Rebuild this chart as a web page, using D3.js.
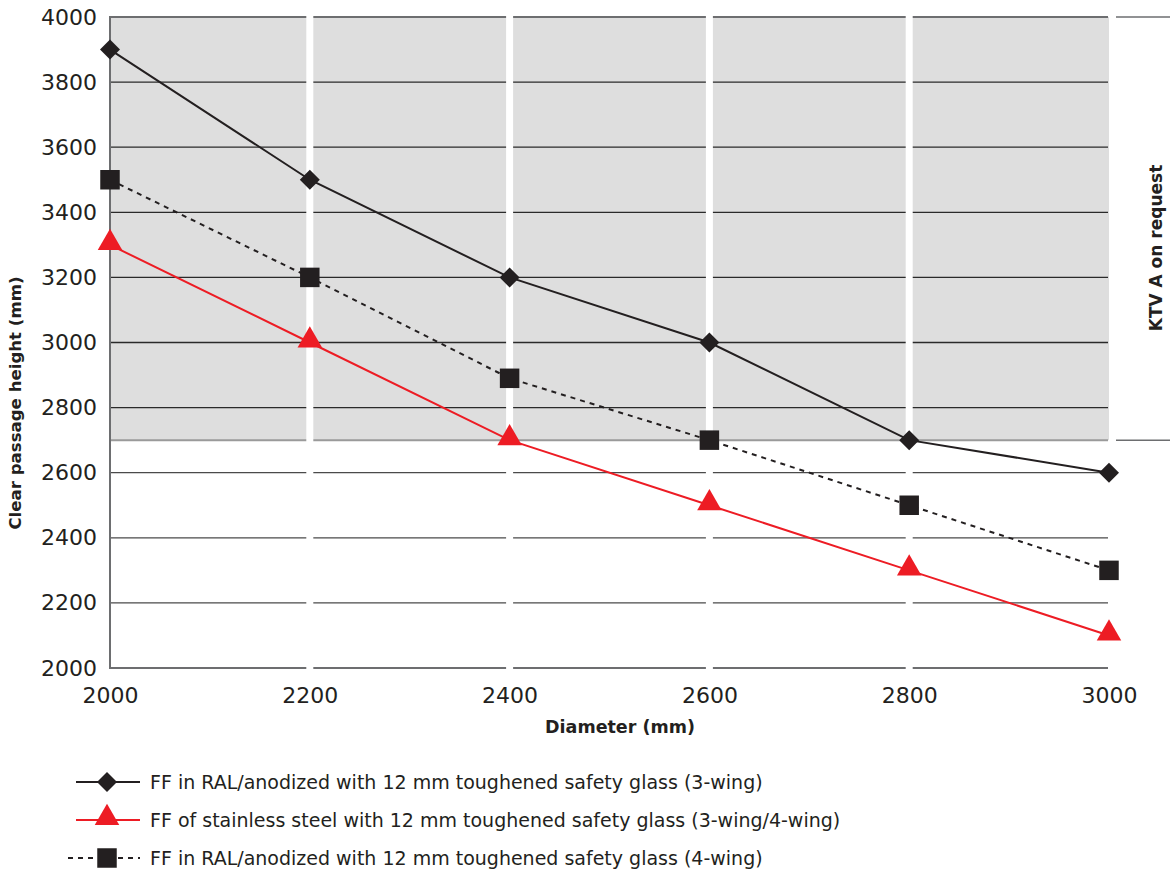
<!DOCTYPE html>
<html>
<head>
<meta charset="utf-8">
<script src="https://cdn.jsdelivr.net/npm/d3@7"></script>
<style>
  body { margin: 0; background: #fff; }
  text { font-family: "DejaVu Sans", "Noto Sans", sans-serif; fill: #231f20; }
</style>
</head>
<body>
<div id="chart"></div>
<script>
// data
const diameters = [2000, 2200, 2400, 2600, 2800, 3000];
const ralThreeWing = [3900, 3500, 3200, 3000, 2700, 2600];
const stainless = [3300, 3000, 2700, 2500, 2300, 2100];
const ralFourWing = [3500, 3200, 2890, 2700, 2500, 2300];
const yTicks = [2000, 2200, 2400, 2600, 2800, 3000, 3200, 3400, 3600, 3800, 4000];
const shadeFrom = 2700;
const legendLabels = [
  "FF in RAL/anodized with 12 mm toughened safety glass (3-wing)",
  "FF of stainless steel with 12 mm toughened safety glass (3-wing/4-wing)",
  "FF in RAL/anodized with 12 mm toughened safety glass (4-wing)"
];

const svgWidth = 1170, svgHeight = 873;
const svg = d3.select("#chart").append("svg")
  .attr("width", svgWidth).attr("height", svgHeight);

const x = d3.scaleLinear().domain([2000, 3000]).range([110, 1109]);
const y = d3.scaleLinear().domain([2000, 4000]).range([668, 17]);

// shaded "on request" area
svg.append("rect")
  .attr("x", x(2000)).attr("y", y(4000))
  .attr("width", x(3000) - x(2000)).attr("height", y(shadeFrom) - y(4000))
  .attr("fill", "#dedede");

// horizontal grid lines
svg.append("g").selectAll("line")
  .data(yTicks)
  .join("line")
  .attr("x1", x(2000)).attr("x2", x(3000) - 1)
  .attr("y1", d => y(d)).attr("y2", d => y(d))
  .attr("stroke", d => (d === 2000 || d === 4000) ? "#6d6e70" : (d > shadeFrom ? "#2a2a2a" : "#4a4a4a"))
  .attr("stroke-width", d => (d === 2000 || d === 4000) ? 2 : 1.3);

// boundary of shaded area
svg.append("line")
  .attr("x1", x(2000)).attr("x2", x(3000) - 1)
  .attr("y1", y(shadeFrom)).attr("y2", y(shadeFrom))
  .attr("stroke", "#9a9a9a").attr("stroke-width", 2);

// white vertical separators
svg.append("g").selectAll("line")
  .data(diameters.slice(1, -1))
  .join("line")
  .attr("x1", d => x(d)).attr("x2", d => x(d))
  .attr("y1", y(4000) - 2).attr("y2", y(2000) + 2)
  .attr("stroke", "#fff").attr("stroke-width", 7);

// left axis line
svg.append("line")
  .attr("x1", x(2000)).attr("x2", x(2000))
  .attr("y1", y(4000) - 1).attr("y2", y(2000) + 1)
  .attr("stroke", "#6d6e70").attr("stroke-width", 2);

// right side marks + label
[4000, shadeFrom].forEach(v => {
  svg.append("line")
    .attr("x1", 1116).attr("x2", 1170)
    .attr("y1", y(v)).attr("y2", y(v))
    .attr("stroke", "#6d6e70").attr("stroke-width", 1.5);
});
svg.append("text")
  .attr("transform", "translate(1162,248) rotate(-90)")
  .attr("text-anchor", "middle")
  .style("font-size", "17px").style("font-weight", "bold")
  .text("KTV A on request");

// axis tick labels
const yAxis = d3.axisLeft(y).tickValues(yTicks).tickSize(0).tickPadding(13).tickFormat(d3.format("d"));
svg.append("g").attr("transform", "translate(" + x(2000) + ",0)").call(yAxis)
  .call(g => g.select(".domain").remove())
  .selectAll("text").style("font-size", "22px").attr("fill", "#2b2b2b")
  .style("font-family", "'DejaVu Sans', sans-serif");

const xAxis = d3.axisBottom(x).tickValues(diameters).tickSize(0).tickPadding(19).tickFormat(d3.format("d"));
svg.append("g").attr("transform", "translate(0," + y(2000) + ")").call(xAxis)
  .call(g => g.select(".domain").remove())
  .selectAll("text").style("font-size", "22px").attr("fill", "#2b2b2b")
  .style("font-family", "'DejaVu Sans', sans-serif");

// axis titles
svg.append("text")
  .attr("x", 620).attr("y", 733)
  .attr("text-anchor", "middle")
  .style("font-size", "17.5px").style("font-weight", "bold")
  .text("Diameter (mm)");
svg.append("text")
  .attr("transform", "translate(21,403) rotate(-90)")
  .attr("text-anchor", "middle")
  .style("font-size", "16.6px").style("font-weight", "bold")
  .text("Clear passage height (mm)");

// series
const series = [
  { values: ralThreeWing, color: "#231f20", dash: null, symbol: d3.symbolSquare, rotate: 45, size: 200, label: legendLabels[0] },
  { values: stainless, color: "#ed1c24", dash: null, symbol: d3.symbolTriangle, rotate: 0, size: 260, label: legendLabels[1] },
  { values: ralFourWing, color: "#231f20", dash: "5,5", symbol: d3.symbolSquare, rotate: 0, size: 380, label: legendLabels[2] }
];

const line = d3.line().x((d, i) => x(diameters[i])).y(d => y(d));

series.forEach(s => {
  svg.append("path").datum(s.values)
    .attr("fill", "none").attr("stroke", s.color).attr("stroke-width", 2)
    .attr("stroke-dasharray", s.dash).attr("d", line);
});
series.forEach(s => {
  svg.append("g").selectAll("path")
    .data(s.values)
    .join("path")
    .attr("transform", (d, i) => "translate(" + x(diameters[i]) + "," + (y(d) + (s.symbol === d3.symbolTriangle ? -2 : 0)) + ") rotate(" + s.rotate + ")")
    .attr("d", d3.symbol().type(s.symbol).size(s.size))
    .attr("fill", s.color);
});

// legend
const legend = svg.append("g");
series.forEach((s, i) => {
  const ly = 782 + i * 38;
  legend.append("line")
    .attr("x1", s.dash ? 68 : 76).attr("x2", 140)
    .attr("y1", ly).attr("y2", ly)
    .attr("stroke", s.color).attr("stroke-width", 2)
    .attr("stroke-dasharray", s.dash);
  legend.append("path")
    .attr("transform", "translate(107," + (ly + (s.symbol === d3.symbolTriangle ? -2 : 0)) + ") rotate(" + s.rotate + ")")
    .attr("d", d3.symbol().type(s.symbol).size(s.size))
    .attr("fill", s.color);
  legend.append("text")
    .attr("x", 150).attr("y", ly + 7)
    .style("font-size", "19px").attr("fill", "#333")
    .text(s.label);
});
</script>
</body>
</html>
